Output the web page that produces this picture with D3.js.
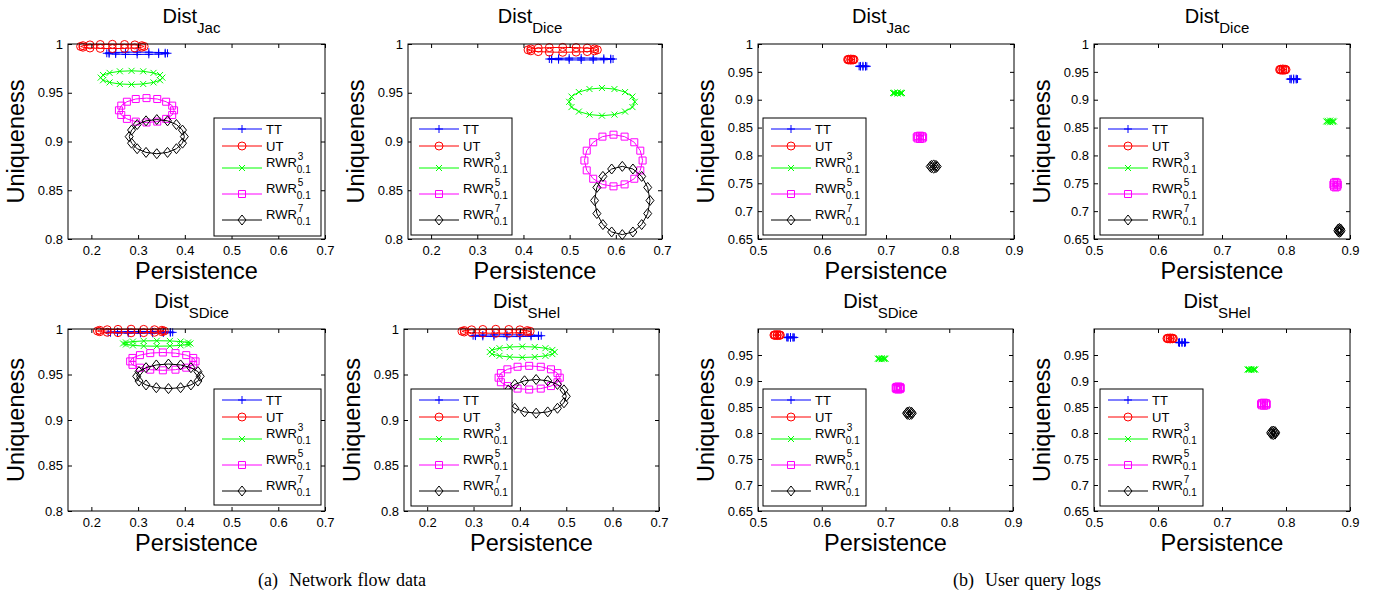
<!DOCTYPE html>
<html>
<head>
<meta charset="utf-8">
<script src="https://cdn.jsdelivr.net/npm/d3@7"></script>
<style>
  body { margin: 0; background: #fff; }
  text { font-family: "Liberation Sans", Arial, sans-serif; fill: #000; }
  .caption { font-family: "Liberation Serif", "Times New Roman", serif; white-space: pre; }
</style>
</head>
<body>
<svg id="chart" width="1378" height="600"></svg>
<script>
// Series setup
var seriesNames = ["TT", "UT", "RWR3", "RWR5", "RWR7"];
var seriesColors = ["#0000ff", "#ff0000", "#00ff00", "#ff00ff", "#000000"];
var seriesMarkers = ["plus", "circle", "cross", "square", "diamond"];
var legendSup = ["", "", "3", "5", "7"];

// Axis settings
var netXDomain = [0.15, 0.7], netYDomain = [0.8, 1];
var netXTicks = [0.2, 0.3, 0.4, 0.5, 0.6, 0.7];
var netYTicks = [0.8, 0.85, 0.9, 0.95, 1];
var qXDomain = [0.5, 0.9], qYDomain = [0.65, 1];
var qXTicks = [0.5, 0.6, 0.7, 0.8, 0.9];
var qYTicksTop = [0.65, 0.7, 0.75, 0.8, 0.85, 0.9, 0.95, 1];
var qYTicksBottom = [0.65, 0.7, 0.75, 0.8, 0.85, 0.9, 0.95];

// (a) Network flow data - Dist_Jac
var netJacX = {
  TT: [.363,.358,.344,.323,.298,.273,.252,.238,.233,.238,.252,.273,.298,.323,.344,.358],
  UT: [.313,.308,.293,.271,.245,.219,.197,.182,.177,.182,.197,.219,.245,.271,.293,.308],
  RWR3: [.352,.347,.333,.311,.286,.261,.239,.225,.220,.225,.239,.261,.286,.311,.333,.347],
  RWR5: [.377,.373,.360,.341,.318,.295,.276,.264,.259,.264,.276,.295,.318,.341,.360,.373],
  RWR7: [.399,.395,.382,.363,.340,.317,.298,.286,.281,.286,.298,.317,.340,.363,.382,.395]
};
var netJacY = {
  TT: [.9905,.9910,.9913,.9916,.9917,.9916,.9913,.9910,.9905,.9900,.9897,.9894,.9893,.9894,.9897,.9900],
  UT: [.9975,.9983,.9991,.9995,.9997,.9995,.9991,.9983,.9975,.9967,.9959,.9955,.9953,.9955,.9959,.9967],
  RWR3: [.9655,.9682,.9704,.9720,.9725,.9720,.9704,.9682,.9655,.9628,.9606,.9590,.9585,.9590,.9606,.9628],
  RWR5: [.9320,.9368,.9408,.9436,.9445,.9436,.9408,.9368,.9320,.9272,.9232,.9204,.9195,.9204,.9232,.9272],
  RWR7: [.9050,.9117,.9174,.9212,.9225,.9212,.9174,.9117,.9050,.8983,.8926,.8888,.8875,.8888,.8926,.8983]
};

// (a) Network flow data - Dist_Dice
var netDiceX = {
  TT: [.594,.589,.574,.551,.525,.499,.476,.461,.456,.461,.476,.499,.525,.551,.574,.589],
  UT: [.560,.554,.538,.514,.485,.456,.432,.416,.410,.416,.432,.456,.485,.514,.538,.554],
  RWR3: [.641,.636,.620,.597,.570,.543,.520,.504,.499,.504,.520,.543,.570,.597,.620,.636],
  RWR5: [.658,.653,.640,.619,.595,.571,.551,.537,.532,.537,.551,.571,.595,.619,.640,.653],
  RWR7: [.674,.669,.656,.637,.614,.591,.572,.559,.554,.559,.572,.591,.614,.637,.656,.669]
};
var netDiceY = {
  TT: [.9846,.9850,.9853,.9855,.9856,.9855,.9853,.9850,.9846,.9842,.9839,.9837,.9836,.9837,.9839,.9842],
  UT: [.9940,.9950,.9958,.9963,.9965,.9963,.9958,.9950,.9940,.9930,.9922,.9917,.9915,.9917,.9922,.9930],
  RWR3: [.9407,.9461,.9507,.9538,.9549,.9538,.9507,.9461,.9407,.9353,.9307,.9276,.9265,.9276,.9307,.9353],
  RWR5: [.8805,.8906,.8992,.9050,.9070,.9050,.8992,.8906,.8805,.8704,.8618,.8560,.8540,.8560,.8618,.8704],
  RWR7: [.8395,.8529,.8642,.8718,.8745,.8718,.8642,.8529,.8395,.8261,.8148,.8072,.8045,.8072,.8148,.8261]
};

// (a) Network flow data - Dist_SDice
var netSDiceX = {
  TT: [.374,.369,.354,.331,.305,.279,.256,.241,.236,.241,.256,.279,.305,.331,.354,.369],
  UT: [.356,.351,.335,.312,.285,.257,.234,.218,.213,.218,.234,.257,.285,.312,.335,.351],
  RWR3: [.412,.407,.391,.368,.340,.312,.289,.274,.268,.274,.289,.312,.340,.368,.391,.407],
  RWR5: [.423,.418,.403,.380,.353,.326,.304,.288,.283,.288,.304,.326,.353,.380,.403,.418],
  RWR7: [.433,.428,.413,.391,.365,.339,.317,.302,.297,.302,.317,.339,.365,.391,.413,.428]
};
var netSDiceY = {
  TT: [.9963,.9967,.9970,.9972,.9973,.9972,.9970,.9967,.9963,.9959,.9956,.9954,.9953,.9954,.9956,.9959],
  UT: [.9978,.9986,.9992,.9996,.9998,.9996,.9992,.9986,.9978,.9970,.9964,.9960,.9958,.9960,.9964,.9970],
  RWR3: [.9841,.9852,.9862,.9869,.9871,.9869,.9862,.9852,.9841,.9830,.9820,.9813,.9811,.9813,.9820,.9830],
  RWR5: [.9644,.9682,.9713,.9735,.9742,.9735,.9713,.9682,.9644,.9606,.9575,.9553,.9546,.9553,.9575,.9606],
  RWR7: [.9480,.9532,.9575,.9605,.9615,.9605,.9575,.9532,.9480,.9428,.9385,.9355,.9345,.9355,.9385,.9428]
};

// (a) Network flow data - Dist_SHel
var netSHelX = {
  TT: [.446,.440,.424,.400,.372,.344,.320,.304,.299,.304,.320,.344,.372,.400,.424,.440],
  UT: [.422,.416,.400,.376,.348,.320,.296,.280,.275,.280,.296,.320,.348,.376,.400,.416],
  RWR3: [.475,.470,.455,.432,.405,.378,.356,.340,.335,.340,.356,.378,.405,.432,.455,.470],
  RWR5: [.486,.481,.467,.445,.420,.395,.373,.359,.354,.359,.373,.395,.420,.445,.467,.481],
  RWR7: [.500,.495,.481,.460,.435,.410,.389,.375,.370,.375,.389,.410,.435,.460,.481,.495]
};
var netSHelY = {
  TT: [.9926,.9930,.9933,.9935,.9936,.9935,.9933,.9930,.9926,.9922,.9919,.9917,.9916,.9917,.9919,.9922],
  UT: [.9975,.9983,.9991,.9995,.9997,.9995,.9991,.9983,.9975,.9967,.9959,.9955,.9953,.9955,.9959,.9967],
  RWR3: [.9747,.9770,.9789,.9802,.9807,.9802,.9789,.9770,.9747,.9724,.9705,.9692,.9687,.9692,.9705,.9724],
  RWR5: [.9465,.9515,.9557,.9585,.9595,.9585,.9557,.9515,.9465,.9415,.9373,.9345,.9335,.9345,.9373,.9415],
  RWR7: [.9260,.9331,.9391,.9431,.9445,.9431,.9391,.9331,.9260,.9189,.9129,.9089,.9075,.9089,.9129,.9189]
};

// (b) User query logs - Dist_Jac
var qJacX = {
  TT: [.670,.668,.664,.660,.658,.660,.664,.668],
  UT: [.650,.6485,.645,.6415,.640,.6415,.645,.6485],
  RWR3: [.725,.723,.718,.713,.711,.713,.718,.723],
  RWR5: [.758,.7565,.753,.7495,.748,.7495,.753,.7565],
  RWR7: [.780,.778,.7745,.771,.769,.771,.7745,.778]
};
var qJacY = {
  TT: [.960,.9606,.9608,.9606,.960,.9594,.9592,.9594],
  UT: [.972,.9727,.973,.9727,.972,.9713,.971,.9713],
  RWR3: [.912,.9127,.913,.9127,.912,.9113,.911,.9113],
  RWR5: [.8325,.8346,.8355,.8346,.8325,.8304,.8295,.8304],
  RWR7: [.780,.7821,.783,.7821,.780,.7779,.777,.7779]
};

// (b) User query logs - Dist_Dice
var qDiceX = {
  TT: [.818,.816,.812,.808,.806,.808,.812,.816],
  UT: [.800,.7985,.795,.7915,.790,.7915,.795,.7985],
  RWR3: [.875,.873,.869,.865,.863,.865,.869,.873],
  RWR5: [.881,.880,.8775,.875,.874,.875,.8775,.880],
  RWR7: [.886,.8853,.8835,.8817,.881,.8817,.8835,.8853]
};
var qDiceY = {
  TT: [.937,.9377,.938,.9377,.937,.9363,.936,.9363],
  UT: [.954,.9548,.9552,.9548,.954,.9532,.9528,.9532],
  RWR3: [.861,.8621,.8625,.8621,.861,.8599,.8595,.8599],
  RWR5: [.7475,.751,.7525,.751,.7475,.744,.7425,.744],
  RWR7: [.6655,.668,.669,.668,.6655,.663,.662,.663]
};

// (b) User query logs - Dist_SDice
var qSDiceX = {
  TT: [.557,.555,.551,.547,.545,.547,.551,.555],
  UT: [.535,.5335,.530,.5265,.525,.5265,.530,.5335],
  RWR3: [.700,.698,.694,.690,.688,.690,.694,.698],
  RWR5: [.724,.7228,.720,.7172,.716,.7172,.720,.7228],
  RWR7: [.742,.7407,.7375,.7343,.733,.7343,.7375,.7407]
};
var qSDiceY = {
  TT: [.9838,.9844,.9846,.9844,.9838,.9832,.983,.9832],
  UT: [.9883,.989,.9893,.989,.9883,.9876,.9873,.9876],
  RWR3: [.9429,.9436,.9439,.9436,.9429,.9422,.9419,.9422],
  RWR5: [.8865,.8886,.8895,.8886,.8865,.8844,.8835,.8844],
  RWR7: [.838,.8401,.841,.8401,.838,.8359,.835,.8359]
};

// (b) User query logs - Dist_SHel
var qSHelX = {
  TT: [.643,.6414,.6375,.6336,.632,.6336,.6375,.6414],
  UT: [.624,.6225,.619,.6155,.614,.6155,.619,.6225],
  RWR3: [.752,.750,.746,.742,.740,.742,.746,.750],
  RWR5: [.770,.7687,.7655,.7623,.761,.7623,.7655,.7687],
  RWR7: [.784,.7828,.780,.7772,.776,.7772,.780,.7828]
};
var qSHelY = {
  TT: [.974,.9746,.9748,.9746,.974,.9734,.9732,.9734],
  UT: [.9818,.9825,.9828,.9825,.9818,.9811,.9808,.9811],
  RWR3: [.9221,.9228,.9231,.9228,.9221,.9214,.9211,.9214],
  RWR5: [.8554,.8575,.8584,.8575,.8554,.8533,.8524,.8533],
  RWR7: [.8003,.8028,.8038,.8028,.8003,.7978,.7968,.7978]
};

// Panel layout
var panels = [
  { sub: "Jac",   xs: netJacX,   ys: netJacY,   left: 68,   right: 325,  top: 44,  bottom: 239, xDom: netXDomain, yDom: netYDomain, xt: netXTicks, yt: netYTicks,     leg: [214, 118, 107, 118] },
  { sub: "Dice",  xs: netDiceX,  ys: netDiceY,  left: 408,  right: 662,  top: 44,  bottom: 239, xDom: netXDomain, yDom: netYDomain, xt: netXTicks, yt: netYTicks,     leg: [411, 118, 101, 117] },
  { sub: "Jac",   xs: qJacX,     ys: qJacY,     left: 758,  right: 1014, top: 44,  bottom: 239, xDom: qXDomain,   yDom: qYDomain,   xt: qXTicks,   yt: qYTicksTop,    leg: [763, 118, 103, 117] },
  { sub: "Dice",  xs: qDiceX,    ys: qDiceY,    left: 1094, right: 1350, top: 44,  bottom: 239, xDom: qXDomain,   yDom: qYDomain,   xt: qXTicks,   yt: qYTicksTop,    leg: [1100, 118, 103, 117] },
  { sub: "SDice", xs: netSDiceX, ys: netSDiceY, left: 68,   right: 325,  top: 329, bottom: 511, xDom: netXDomain, yDom: netYDomain, xt: netXTicks, yt: netYTicks,     leg: [214, 389, 107, 116] },
  { sub: "SHel",  xs: netSHelX,  ys: netSHelY,  left: 404,  right: 659,  top: 329, bottom: 511, xDom: netXDomain, yDom: netYDomain, xt: netXTicks, yt: netYTicks,     leg: [411, 389, 101, 117] },
  { sub: "SDice", xs: qSDiceX,   ys: qSDiceY,   left: 758,  right: 1013, top: 329, bottom: 511, xDom: qXDomain,   yDom: qYDomain,   xt: qXTicks,   yt: qYTicksBottom, leg: [763, 389, 103, 117] },
  { sub: "SHel",  xs: qSHelX,    ys: qSHelY,    left: 1094, right: 1350, top: 329, bottom: 511, xDom: qXDomain,   yDom: qYDomain,   xt: qXTicks,   yt: qYTicksBottom, leg: [1100, 389, 103, 117] }
];

var svg = d3.select("#chart");

// marker shapes, drawn like matlab (outline only)
function markerPath(type) {
  if (type === "plus") return "M-4,0H4M0,-4V4";
  if (type === "cross") return "M-3,-3L3,3M-3,3L3,-3";
  if (type === "circle") return "M4,0A4,4 0 1,1 -4,0A4,4 0 1,1 4,0Z";
  if (type === "square") return "M-3.5,-3.5H3.5V3.5H-3.5Z";
  return "M0,-5L4,0L0,5L-4,0Z";
}

function fmt(d) { return String(d); }

panels.forEach(function(p) {
  var g = svg.append("g");
  var x = d3.scaleLinear().domain(p.xDom).range([p.left, p.right]);
  var y = d3.scaleLinear().domain(p.yDom).range([p.bottom, p.top]);

  // data series
  seriesNames.forEach(function(name, i) {
    var pts = p.xs[name].map(function(v, k) { return [v, p.ys[name][k]]; });
    var line = d3.line()
      .x(function(d) { return x(d[0]); })
      .y(function(d) { return y(d[1]); })
      .curve(d3.curveLinearClosed);
    g.append("path")
      .attr("d", line(pts))
      .attr("fill", "none")
      .attr("stroke", seriesColors[i])
      .attr("stroke-width", 1);
    g.selectAll(".m" + i)
      .data(pts)
      .enter()
      .append("path")
      .attr("class", "m" + i)
      .attr("transform", function(d) { return "translate(" + x(d[0]) + "," + y(d[1]) + ")"; })
      .attr("d", markerPath(seriesMarkers[i]))
      .attr("fill", "none")
      .attr("stroke", seriesColors[i])
      .attr("stroke-width", 1);
  });

  // axes with inward ticks on all four sides
  var axB = g.append("g").attr("transform", "translate(0," + p.bottom + ")")
    .call(d3.axisBottom(x).tickValues(p.xt).tickSizeInner(-4).tickSizeOuter(0).tickPadding(7).tickFormat(fmt));
  var axL = g.append("g").attr("transform", "translate(" + p.left + ",0)")
    .call(d3.axisLeft(y).tickValues(p.yt).tickSizeInner(-4).tickSizeOuter(0).tickPadding(5).tickFormat(fmt));
  var axT = g.append("g").attr("transform", "translate(0," + p.top + ")")
    .call(d3.axisTop(x).tickValues(p.xt).tickSizeInner(-4).tickSizeOuter(0).tickFormat(""));
  var axR = g.append("g").attr("transform", "translate(" + p.right + ",0)")
    .call(d3.axisRight(y).tickValues(p.yt).tickSizeInner(-4).tickSizeOuter(0).tickFormat(""));
  [axB, axL, axT, axR].forEach(function(a) {
    a.select(".domain").remove();
    a.attr("font-family", null).attr("font-size", null);
    a.selectAll("text").style("font-size", "13px");
  });

  g.append("rect")
    .attr("x", p.left).attr("y", p.top)
    .attr("width", p.right - p.left).attr("height", p.bottom - p.top)
    .attr("fill", "none").attr("stroke", "#000").attr("stroke-width", 1);

  // title
  var t = g.append("text")
    .attr("x", (p.left + p.right) / 2 - 5)
    .attr("y", p.top - 21)
    .attr("text-anchor", "middle");
  t.append("tspan").style("font-size", "20px").text("Dist");
  t.append("tspan").style("font-size", "15px").attr("dy", 9.5).text(p.sub);

  // axis labels
  g.append("text")
    .attr("x", (p.left + p.right) / 2)
    .attr("y", p.bottom + 40)
    .attr("text-anchor", "middle")
    .style("font-size", "23.5px")
    .text("Persistence");
  g.append("text")
    .attr("transform", "translate(" + (p.left - 44) + "," + ((p.top + p.bottom) / 2) + ") rotate(-90)")
    .attr("text-anchor", "middle")
    .style("font-size", "23.5px")
    .text("Uniqueness");

  // legend
  var L = p.leg[0], T = p.leg[1];
  var lg = g.append("g");
  lg.append("rect")
    .attr("x", L).attr("y", T).attr("width", p.leg[2]).attr("height", p.leg[3])
    .attr("fill", "#fff").attr("stroke", "#000").attr("stroke-width", 1);
  var rows = [11, 28, 50, 76, 102];
  seriesNames.forEach(function(name, i) {
    var ry = T + rows[i];
    lg.append("line")
      .attr("x1", L + 8).attr("x2", L + 48)
      .attr("y1", ry).attr("y2", ry)
      .attr("stroke", seriesColors[i]).attr("stroke-width", 1);
    lg.append("path")
      .attr("transform", "translate(" + (L + 28) + "," + ry + ")")
      .attr("d", markerPath(seriesMarkers[i]))
      .attr("fill", "none").attr("stroke", seriesColors[i]).attr("stroke-width", 1);
    if (legendSup[i] === "") {
      lg.append("text").attr("x", L + 52).attr("y", ry + 4.5).style("font-size", "13px").text(name);
    } else {
      var base = lg.append("text").attr("x", L + 52).attr("y", ry - 1).style("font-size", "13px").text("RWR");
      var w = base.node().getComputedTextLength();
      lg.append("text").attr("x", L + 53 + w).attr("y", ry - 8).style("font-size", "10px").text(legendSup[i]);
      lg.append("text").attr("x", L + 52 + w).attr("y", ry + 4.5).style("font-size", "10px").text("0.1");
    }
  });
});

// sub-figure captions
svg.append("text").attr("class", "caption")
  .attr("x", 342).attr("y", 586).attr("text-anchor", "middle")
  .style("font-size", "18px").style("word-spacing", "1px")
  .text("(a)  Network flow data");
svg.append("text").attr("class", "caption")
  .attr("x", 1027).attr("y", 586).attr("text-anchor", "middle")
  .style("font-size", "18px").style("word-spacing", "1px")
  .text("(b)  User query logs");
</script>
</body>
</html>
